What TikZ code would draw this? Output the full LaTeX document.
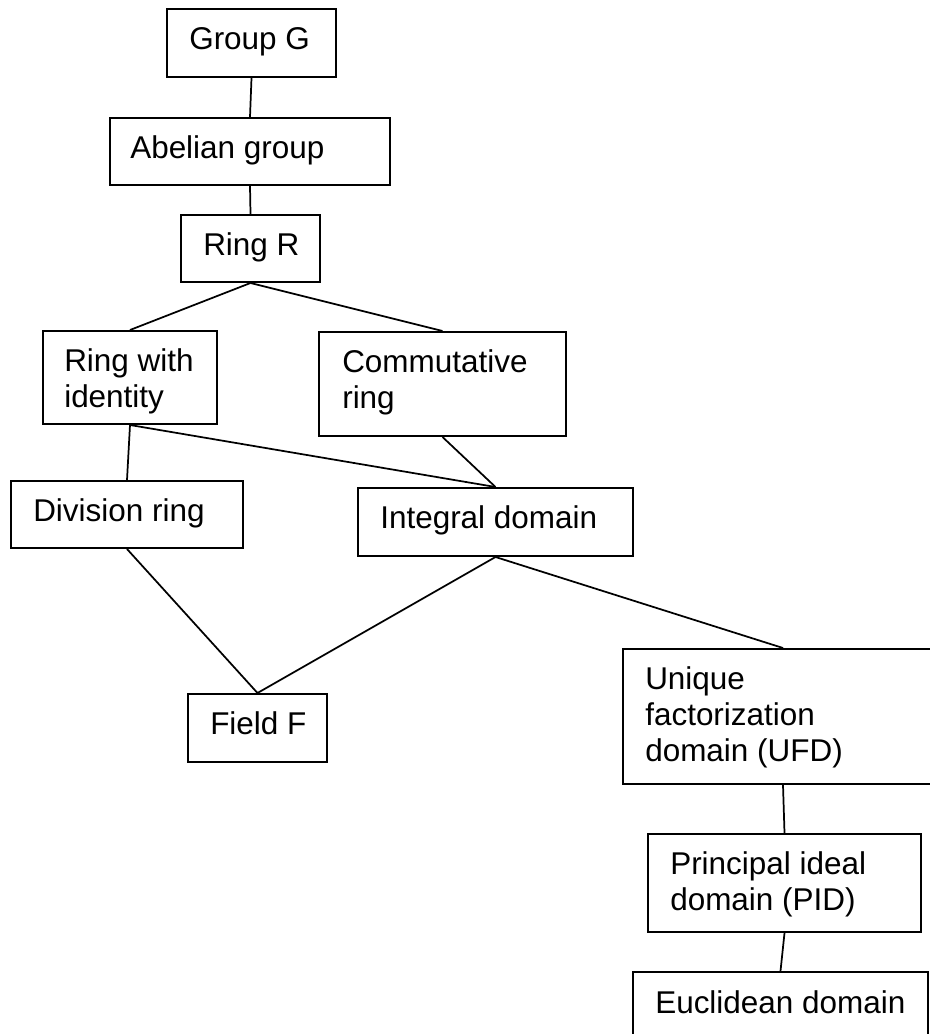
\documentclass[tikz,border=0pt]{standalone}
\usepackage{fontspec}
\setmainfont{Liberation Sans}
\usetikzlibrary{fit}
\begin{document}
\begin{tikzpicture}[x=0.75pt,y=-0.75pt,
  box/.style={draw=black, line width=1.5pt, inner sep=0pt, rectangle},
  lbl/.style={anchor=base west, inner sep=0pt, align=left,
    font=\fontsize{23.6pt}{27pt}\selectfont},
  link/.style={draw=black, line width=1.3pt}]
\clip (0,0) rectangle (930,1034);
\fill[white] (0,0) rectangle (930,1034);
% boxes
\node[box, fit={(167,9) (336,77)}] (g) {};
\node[box, fit={(110,118) (390,185)}] (ab) {};
\node[box, fit={(181,215) (320,282)}] (r) {};
\node[box, fit={(43,331) (217,424)}] (rwi) {};
\node[box, fit={(319,332) (566,436)}] (comm) {};
\node[box, fit={(11,481) (243,548)}] (div) {};
\node[box, fit={(358,488) (633,556)}] (int) {};
\node[box, fit={(188,694) (327,762)}] (f) {};
\node[box, fit={(623,649) (943,784)}] (ufd) {};
\node[box, fit={(648,834) (921,932)}] (pid) {};
\node[box, fit={(633,972) (928,1045)}] (euc) {};
% texts (anchor is the baseline of the last line)
\node[lbl] (gt) at (189,50) {Group G};
\node[lbl] (abt) at (130,159) {Abelian group};
\node[lbl] (rt) at (203,255) {Ring R};
\node[lbl] (rwit) at (64,407) {Ring with\\identity};
\node[lbl] (commt) at (342,408) {Commutative\\ring};
\node[lbl] (divt) at (33,521) {Division ring};
\node[lbl] (intt) at (380,528) {Integral domain};
\node[lbl] (ft) at (210,734) {Field F};
\node[lbl] (ufdt) at (645,761) {Unique\\factorization\\domain (UFD)};
\node[lbl] (pidt) at (670,910) {Principal ideal\\domain (PID)};
\node[lbl] (euct) at (655,1013) {Euclidean domain};
% connectors
\draw[link] (g.south) -- (ab.north);
\draw[link] (ab.south) -- (r.north);
\draw[link] (r.south) -- (rwi.north);
\draw[link] (r.south) -- (comm.north);
\draw[link] (rwi.south) -- (div.north);
\draw[link] (rwi.south) -- (int.north);
\draw[link] (comm.south) -- (int.north);
\draw[link] (div.south) -- (f.north);
\draw[link] (int.south) -- (f.north);
\draw[link] (int.south) -- (ufd.north);
\draw[link] (ufd.south) -- (pid.north);
\draw[link] (pid.south) -- (euc.north);
\end{tikzpicture}
\end{document}
